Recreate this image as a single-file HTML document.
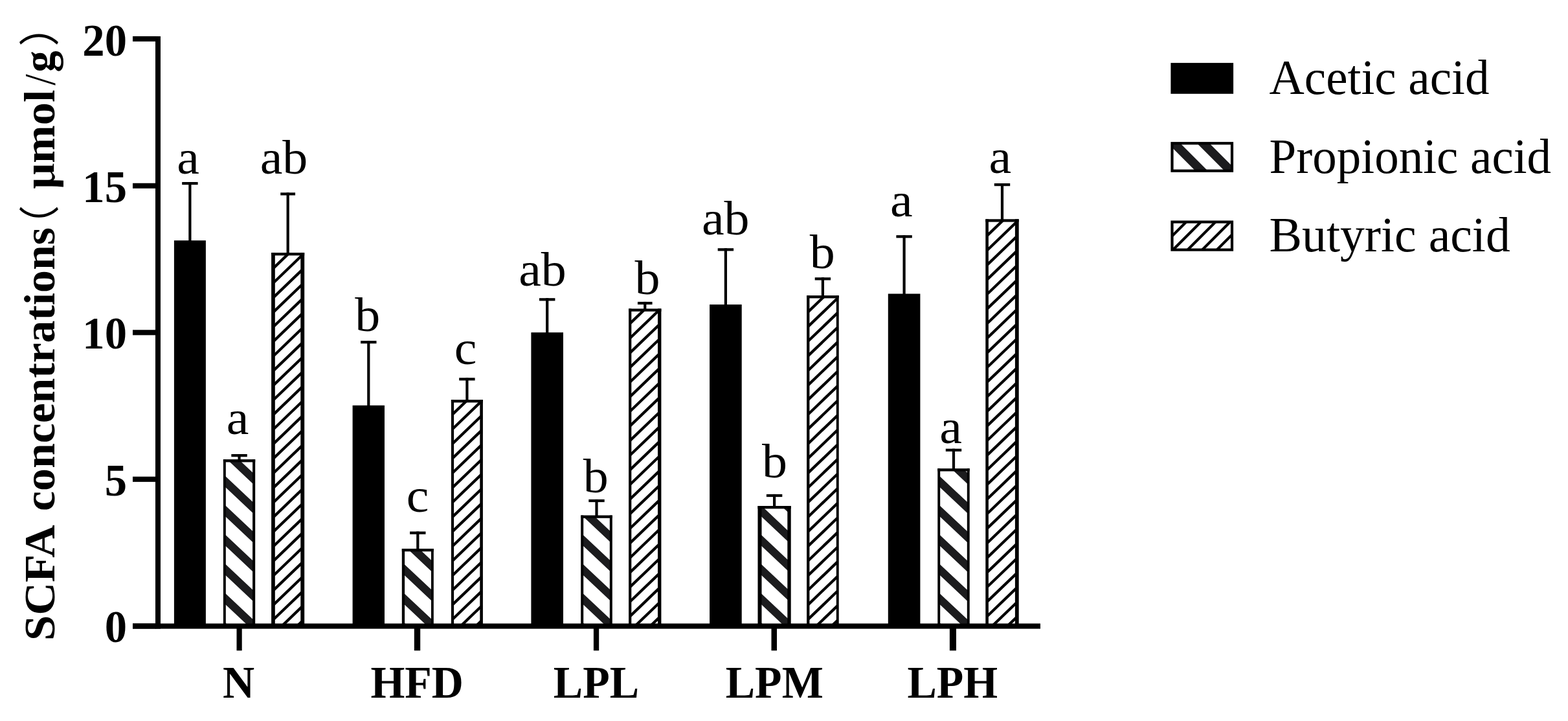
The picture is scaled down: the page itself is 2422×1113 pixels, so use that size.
<!DOCTYPE html>
<html lang="en"><head><meta charset="utf-8"><title>SCFA concentrations</title>
<style>html,body{margin:0;padding:0;background:#fff;}body{width:2422px;height:1113px;overflow:hidden;}svg{display:block;}text{font-family:'Liberation Serif', serif;fill:#000;}</style>
</head><body>
<svg width="2422" height="1113" viewBox="0 0 2422 1113">
<rect x="0" y="0" width="2422" height="1113" fill="#fff"/>
<defs><clipPath id="c1"><rect x="346.9" y="711.1" width="45.3" height="252.4"/></clipPath><clipPath id="c2"><rect x="421.1" y="392.1" width="47.1" height="571.4"/></clipPath><clipPath id="c3"><rect x="622.8" y="849" width="45" height="114.5"/></clipPath><clipPath id="c4"><rect x="698.9" y="619.1" width="45" height="344.4"/></clipPath><clipPath id="c5"><rect x="899.2" y="797.5" width="44.6" height="166"/></clipPath><clipPath id="c6"><rect x="973.1" y="478.5" width="46.3" height="485"/></clipPath><clipPath id="c7"><rect x="1172.5" y="783" width="47.2" height="180.5"/></clipPath><clipPath id="c8"><rect x="1248.1" y="458.1" width="45.6" height="505.4"/></clipPath><clipPath id="c9"><rect x="1450.3" y="725.2" width="45.4" height="238.3"/></clipPath><clipPath id="c10"><rect x="1524.3" y="340.3" width="47.4" height="623.2"/></clipPath><clipPath id="c11"><rect x="1810.4" y="221.1" width="92.7" height="42.7"/></clipPath><clipPath id="c12"><rect x="1810.4" y="342.5" width="92.7" height="43.2"/></clipPath></defs>
<rect x="281.2" y="281" width="24.4" height="4.2" fill="#000"/>
<rect x="291.3" y="281" width="4.2" height="91.2" fill="#000"/>
<rect x="268.9" y="371.2" width="49" height="592.3" fill="#000"/>
<text transform="translate(273.32 267.5) scale(1 0.95)" font-size="78">a</text>
<rect x="357.35" y="701" width="24.4" height="4.2" fill="#000"/>
<rect x="367.45" y="701" width="4.2" height="9.1" fill="#000"/>
<path d="M345.8 687.63L393.1 732.09L393.1 748.99L345.8 704.53ZM345.8 732.88L393.1 777.34L393.1 794.24L345.8 749.78ZM345.8 778.13L393.1 822.59L393.1 839.49L345.8 795.03ZM345.8 823.38L393.1 867.84L393.1 884.74L345.8 840.28ZM345.8 868.63L393.1 913.09L393.1 929.99L345.8 885.53ZM345.8 913.88L393.1 958.34L393.1 975.24L345.8 930.78ZM345.8 959.13L393.1 1003.59L393.1 1020.49L345.8 976.03Z" fill="#1c1c1e" clip-path="url(#c1)"/>
<rect x="344.9" y="709.1" width="3.9" height="254.4" fill="#000"/>
<rect x="390.1" y="709.1" width="4.1" height="254.4" fill="#000"/>
<rect x="344.9" y="709.1" width="49.3" height="4.3" fill="#000"/>
<text transform="translate(349.72 670) scale(1 0.95)" font-size="78">a</text>
<rect x="433.25" y="297.3" width="22.8" height="4.2" fill="#000"/>
<rect x="442.55" y="297.3" width="4.2" height="93.8" fill="#000"/>
<path d="M421.8 388.93L467.3 345.25L467.3 351.15L421.8 394.83ZM421.8 411.53L467.3 367.85L467.3 373.75L421.8 417.43ZM421.8 434.13L467.3 390.45L467.3 396.35L421.8 440.03ZM421.8 456.73L467.3 413.05L467.3 418.95L421.8 462.63ZM421.8 479.33L467.3 435.65L467.3 441.55L421.8 485.23ZM421.8 501.93L467.3 458.25L467.3 464.15L421.8 507.83ZM421.8 524.53L467.3 480.85L467.3 486.75L421.8 530.43ZM421.8 547.13L467.3 503.45L467.3 509.35L421.8 553.03ZM421.8 569.73L467.3 526.05L467.3 531.95L421.8 575.63ZM421.8 592.33L467.3 548.65L467.3 554.55L421.8 598.23ZM421.8 614.93L467.3 571.25L467.3 577.15L421.8 620.83ZM421.8 637.53L467.3 593.85L467.3 599.75L421.8 643.43ZM421.8 660.13L467.3 616.45L467.3 622.35L421.8 666.03ZM421.8 682.73L467.3 639.05L467.3 644.95L421.8 688.63ZM421.8 705.33L467.3 661.65L467.3 667.55L421.8 711.23ZM421.8 727.93L467.3 684.25L467.3 690.15L421.8 733.83ZM421.8 750.53L467.3 706.85L467.3 712.75L421.8 756.43ZM421.8 773.13L467.3 729.45L467.3 735.35L421.8 779.03ZM421.8 795.73L467.3 752.05L467.3 757.95L421.8 801.63ZM421.8 818.33L467.3 774.65L467.3 780.55L421.8 824.23ZM421.8 840.93L467.3 797.25L467.3 803.15L421.8 846.83ZM421.8 863.53L467.3 819.85L467.3 825.75L421.8 869.43ZM421.8 886.13L467.3 842.45L467.3 848.35L421.8 892.03ZM421.8 908.73L467.3 865.05L467.3 870.95L421.8 914.63ZM421.8 931.33L467.3 887.65L467.3 893.55L421.8 937.23ZM421.8 953.93L467.3 910.25L467.3 916.15L421.8 959.83ZM421.8 976.53L467.3 932.85L467.3 938.75L421.8 982.43ZM421.8 999.13L467.3 955.45L467.3 961.35L421.8 1005.03Z" fill="#000" clip-path="url(#c2)"/>
<rect x="419.1" y="390.1" width="5.7" height="573.4" fill="#000"/>
<rect x="464.3" y="390.1" width="5.9" height="573.4" fill="#000"/>
<rect x="419.1" y="390.1" width="51.1" height="4.3" fill="#000"/>
<text transform="translate(401.69 267.5) scale(1 0.95)" font-size="78">ab</text>
<rect x="557.1" y="526.1" width="24.4" height="4.2" fill="#000"/>
<rect x="567.2" y="526.1" width="4.2" height="100.7" fill="#000"/>
<rect x="544.6" y="625.8" width="49.4" height="337.7" fill="#000"/>
<text transform="translate(548.33 510.5) scale(1 0.95)" font-size="78">b</text>
<rect x="633.1" y="820.5" width="24.4" height="4.2" fill="#000"/>
<rect x="643.2" y="820.5" width="4.2" height="27.5" fill="#000"/>
<path d="M622.1 823.38L669 867.47L669 884.37L622.1 840.28ZM622.1 868.63L669 912.72L669 929.62L622.1 885.53ZM622.1 913.88L669 957.97L669 974.87L622.1 930.78ZM622.1 959.13L669 1003.22L669 1020.12L622.1 976.03Z" fill="#1c1c1e" clip-path="url(#c3)"/>
<rect x="620.8" y="847" width="4.3" height="116.5" fill="#000"/>
<rect x="666" y="847" width="3.8" height="116.5" fill="#000"/>
<rect x="620.8" y="847" width="49" height="4.3" fill="#000"/>
<text transform="translate(627.76 790) scale(1 0.95)" font-size="78">c</text>
<rect x="709.2" y="583.2" width="24.4" height="4.2" fill="#000"/>
<rect x="719.3" y="583.2" width="4.2" height="34.9" fill="#000"/>
<path d="M698.1 614.93L744.3 570.58L744.3 576.48L698.1 620.83ZM698.1 637.53L744.3 593.18L744.3 599.08L698.1 643.43ZM698.1 660.13L744.3 615.78L744.3 621.68L698.1 666.03ZM698.1 682.73L744.3 638.38L744.3 644.28L698.1 688.63ZM698.1 705.33L744.3 660.98L744.3 666.88L698.1 711.23ZM698.1 727.93L744.3 683.58L744.3 689.48L698.1 733.83ZM698.1 750.53L744.3 706.18L744.3 712.08L698.1 756.43ZM698.1 773.13L744.3 728.78L744.3 734.68L698.1 779.03ZM698.1 795.73L744.3 751.38L744.3 757.28L698.1 801.63ZM698.1 818.33L744.3 773.98L744.3 779.88L698.1 824.23ZM698.1 840.93L744.3 796.58L744.3 802.48L698.1 846.83ZM698.1 863.53L744.3 819.18L744.3 825.08L698.1 869.43ZM698.1 886.13L744.3 841.78L744.3 847.68L698.1 892.03ZM698.1 908.73L744.3 864.38L744.3 870.28L698.1 914.63ZM698.1 931.33L744.3 886.98L744.3 892.88L698.1 937.23ZM698.1 953.93L744.3 909.58L744.3 915.48L698.1 959.83ZM698.1 976.53L744.3 932.18L744.3 938.08L698.1 982.43ZM698.1 999.13L744.3 954.78L744.3 960.68L698.1 1005.03Z" fill="#000" clip-path="url(#c4)"/>
<rect x="696.9" y="617.1" width="4.2" height="346.4" fill="#000"/>
<rect x="741.3" y="617.1" width="4.6" height="346.4" fill="#000"/>
<rect x="696.9" y="617.1" width="49" height="4.3" fill="#000"/>
<text transform="translate(701.86 562.1) scale(1 0.95)" font-size="78">c</text>
<rect x="833" y="460.2" width="24.4" height="4.2" fill="#000"/>
<rect x="843.1" y="460.2" width="4.2" height="54" fill="#000"/>
<rect x="820.4" y="513.2" width="49.6" height="450.3" fill="#000"/>
<text transform="translate(801.19 440.5) scale(1 0.95)" font-size="78">ab</text>
<rect x="909.3" y="770.9" width="24.4" height="4.2" fill="#000"/>
<rect x="919.4" y="770.9" width="4.2" height="25.6" fill="#000"/>
<path d="M898.2 778.13L944.8 821.93L944.8 838.83L898.2 795.03ZM898.2 823.38L944.8 867.18L944.8 884.08L898.2 840.28ZM898.2 868.63L944.8 912.43L944.8 929.33L898.2 885.53ZM898.2 913.88L944.8 957.68L944.8 974.58L898.2 930.78ZM898.2 959.13L944.8 1002.93L944.8 1019.83L898.2 976.03Z" fill="#1c1c1e" clip-path="url(#c5)"/>
<rect x="897.2" y="795.5" width="4" height="168" fill="#000"/>
<rect x="941.8" y="795.5" width="4" height="168" fill="#000"/>
<rect x="897.2" y="795.5" width="48.6" height="4.3" fill="#000"/>
<text transform="translate(900.63 759.8) scale(1 0.95)" font-size="78">b</text>
<rect x="984.95" y="465.9" width="22.6" height="4.2" fill="#000"/>
<rect x="994.15" y="465.9" width="4.2" height="11.6" fill="#000"/>
<path d="M972.3 474.63L1019 429.8L1019 435.7L972.3 480.53ZM972.3 497.23L1019 452.4L1019 458.3L972.3 503.13ZM972.3 519.83L1019 475L1019 480.9L972.3 525.73ZM972.3 542.43L1019 497.6L1019 503.5L972.3 548.33ZM972.3 565.03L1019 520.2L1019 526.1L972.3 570.93ZM972.3 587.63L1019 542.8L1019 548.7L972.3 593.53ZM972.3 610.23L1019 565.4L1019 571.3L972.3 616.13ZM972.3 632.83L1019 588L1019 593.9L972.3 638.73ZM972.3 655.43L1019 610.6L1019 616.5L972.3 661.33ZM972.3 678.03L1019 633.2L1019 639.1L972.3 683.93ZM972.3 700.63L1019 655.8L1019 661.7L972.3 706.53ZM972.3 723.23L1019 678.4L1019 684.3L972.3 729.13ZM972.3 745.83L1019 701L1019 706.9L972.3 751.73ZM972.3 768.43L1019 723.6L1019 729.5L972.3 774.33ZM972.3 791.03L1019 746.2L1019 752.1L972.3 796.93ZM972.3 813.63L1019 768.8L1019 774.7L972.3 819.53ZM972.3 836.23L1019 791.4L1019 797.3L972.3 842.13ZM972.3 858.83L1019 814L1019 819.9L972.3 864.73ZM972.3 881.43L1019 836.6L1019 842.5L972.3 887.33ZM972.3 904.03L1019 859.2L1019 865.1L972.3 909.93ZM972.3 926.63L1019 881.8L1019 887.7L972.3 932.53ZM972.3 949.23L1019 904.4L1019 910.3L972.3 955.13ZM972.3 971.83L1019 927L1019 932.9L972.3 977.73ZM972.3 994.43L1019 949.6L1019 955.5L972.3 1000.33Z" fill="#000" clip-path="url(#c6)"/>
<rect x="971.1" y="476.5" width="4.2" height="487" fill="#000"/>
<rect x="1016" y="476.5" width="5.4" height="487" fill="#000"/>
<rect x="971.1" y="476.5" width="50.3" height="4.3" fill="#000"/>
<text transform="translate(980.53 454.2) scale(1 0.95)" font-size="78">b</text>
<rect x="1108.7" y="383.2" width="24.4" height="4.2" fill="#000"/>
<rect x="1118.8" y="383.2" width="4.2" height="87.9" fill="#000"/>
<rect x="1096.1" y="470.1" width="49.6" height="493.4" fill="#000"/>
<text transform="translate(1083.89 362.1) scale(1 0.95)" font-size="78">ab</text>
<rect x="1183.9" y="762.9" width="24.4" height="4.2" fill="#000"/>
<rect x="1194" y="762.9" width="4.2" height="19.1" fill="#000"/>
<path d="M1173.5 732.88L1219.3 775.93L1219.3 792.83L1173.5 749.78ZM1173.5 778.13L1219.3 821.18L1219.3 838.08L1173.5 795.03ZM1173.5 823.38L1219.3 866.43L1219.3 883.33L1173.5 840.28ZM1173.5 868.63L1219.3 911.68L1219.3 928.58L1173.5 885.53ZM1173.5 913.88L1219.3 956.93L1219.3 973.83L1173.5 930.78ZM1173.5 959.13L1219.3 1002.18L1219.3 1019.08L1173.5 976.03Z" fill="#1c1c1e" clip-path="url(#c7)"/>
<rect x="1170.5" y="781" width="6" height="182.5" fill="#000"/>
<rect x="1216.3" y="781" width="5.4" height="182.5" fill="#000"/>
<rect x="1170.5" y="781" width="51.2" height="4.3" fill="#000"/>
<text transform="translate(1176.93 737.1) scale(1 0.95)" font-size="78">b</text>
<rect x="1258.7" y="428.3" width="24.4" height="4.2" fill="#000"/>
<rect x="1268.8" y="428.3" width="4.2" height="28.8" fill="#000"/>
<path d="M1247.4 456.73L1294.8 411.23L1294.8 417.13L1247.4 462.63ZM1247.4 479.33L1294.8 433.83L1294.8 439.73L1247.4 485.23ZM1247.4 501.93L1294.8 456.43L1294.8 462.33L1247.4 507.83ZM1247.4 524.53L1294.8 479.03L1294.8 484.93L1247.4 530.43ZM1247.4 547.13L1294.8 501.63L1294.8 507.53L1247.4 553.03ZM1247.4 569.73L1294.8 524.23L1294.8 530.13L1247.4 575.63ZM1247.4 592.33L1294.8 546.83L1294.8 552.73L1247.4 598.23ZM1247.4 614.93L1294.8 569.43L1294.8 575.33L1247.4 620.83ZM1247.4 637.53L1294.8 592.03L1294.8 597.93L1247.4 643.43ZM1247.4 660.13L1294.8 614.63L1294.8 620.53L1247.4 666.03ZM1247.4 682.73L1294.8 637.23L1294.8 643.13L1247.4 688.63ZM1247.4 705.33L1294.8 659.83L1294.8 665.73L1247.4 711.23ZM1247.4 727.93L1294.8 682.43L1294.8 688.33L1247.4 733.83ZM1247.4 750.53L1294.8 705.03L1294.8 710.93L1247.4 756.43ZM1247.4 773.13L1294.8 727.63L1294.8 733.53L1247.4 779.03ZM1247.4 795.73L1294.8 750.23L1294.8 756.13L1247.4 801.63ZM1247.4 818.33L1294.8 772.83L1294.8 778.73L1247.4 824.23ZM1247.4 840.93L1294.8 795.43L1294.8 801.33L1247.4 846.83ZM1247.4 863.53L1294.8 818.03L1294.8 823.93L1247.4 869.43ZM1247.4 886.13L1294.8 840.63L1294.8 846.53L1247.4 892.03ZM1247.4 908.73L1294.8 863.23L1294.8 869.13L1247.4 914.63ZM1247.4 931.33L1294.8 885.83L1294.8 891.73L1247.4 937.23ZM1247.4 953.93L1294.8 908.43L1294.8 914.33L1247.4 959.83ZM1247.4 976.53L1294.8 931.03L1294.8 936.93L1247.4 982.43ZM1247.4 999.13L1294.8 953.63L1294.8 959.53L1247.4 1005.03Z" fill="#000" clip-path="url(#c8)"/>
<rect x="1246.1" y="456.1" width="4.3" height="507.4" fill="#000"/>
<rect x="1291.8" y="456.1" width="3.9" height="507.4" fill="#000"/>
<rect x="1246.1" y="456.1" width="49.6" height="4.3" fill="#000"/>
<text transform="translate(1250.63 414.1) scale(1 0.95)" font-size="78">b</text>
<rect x="1384.4" y="363.1" width="24.4" height="4.2" fill="#000"/>
<rect x="1394.5" y="363.1" width="4.2" height="91.4" fill="#000"/>
<rect x="1371.8" y="453.5" width="49.6" height="510" fill="#000"/>
<text transform="translate(1375.02 334.1) scale(1 0.95)" font-size="78">a</text>
<rect x="1460.8" y="692.7" width="24.4" height="4.2" fill="#000"/>
<rect x="1470.9" y="692.7" width="4.2" height="31.5" fill="#000"/>
<path d="M1449.2 687.63L1496.8 732.37L1496.8 749.27L1449.2 704.53ZM1449.2 732.88L1496.8 777.62L1496.8 794.52L1449.2 749.78ZM1449.2 778.13L1496.8 822.87L1496.8 839.77L1449.2 795.03ZM1449.2 823.38L1496.8 868.12L1496.8 885.02L1449.2 840.28ZM1449.2 868.63L1496.8 913.37L1496.8 930.27L1449.2 885.53ZM1449.2 913.88L1496.8 958.62L1496.8 975.52L1449.2 930.78ZM1449.2 959.13L1496.8 1003.87L1496.8 1020.77L1449.2 976.03Z" fill="#1c1c1e" clip-path="url(#c9)"/>
<rect x="1448.3" y="723.2" width="3.9" height="240.3" fill="#000"/>
<rect x="1493.8" y="723.2" width="3.9" height="240.3" fill="#000"/>
<rect x="1448.3" y="723.2" width="49.4" height="4.3" fill="#000"/>
<text transform="translate(1451.32 683.8) scale(1 0.95)" font-size="78">a</text>
<rect x="1535.8" y="283" width="24.4" height="4.2" fill="#000"/>
<rect x="1545.9" y="283" width="4.2" height="56.3" fill="#000"/>
<path d="M1523.9 339.03L1570.9 293.91L1570.9 299.81L1523.9 344.93ZM1523.9 361.63L1570.9 316.51L1570.9 322.41L1523.9 367.53ZM1523.9 384.23L1570.9 339.11L1570.9 345.01L1523.9 390.13ZM1523.9 406.83L1570.9 361.71L1570.9 367.61L1523.9 412.73ZM1523.9 429.43L1570.9 384.31L1570.9 390.21L1523.9 435.33ZM1523.9 452.03L1570.9 406.91L1570.9 412.81L1523.9 457.93ZM1523.9 474.63L1570.9 429.51L1570.9 435.41L1523.9 480.53ZM1523.9 497.23L1570.9 452.11L1570.9 458.01L1523.9 503.13ZM1523.9 519.83L1570.9 474.71L1570.9 480.61L1523.9 525.73ZM1523.9 542.43L1570.9 497.31L1570.9 503.21L1523.9 548.33ZM1523.9 565.03L1570.9 519.91L1570.9 525.81L1523.9 570.93ZM1523.9 587.63L1570.9 542.51L1570.9 548.41L1523.9 593.53ZM1523.9 610.23L1570.9 565.11L1570.9 571.01L1523.9 616.13ZM1523.9 632.83L1570.9 587.71L1570.9 593.61L1523.9 638.73ZM1523.9 655.43L1570.9 610.31L1570.9 616.21L1523.9 661.33ZM1523.9 678.03L1570.9 632.91L1570.9 638.81L1523.9 683.93ZM1523.9 700.63L1570.9 655.51L1570.9 661.41L1523.9 706.53ZM1523.9 723.23L1570.9 678.11L1570.9 684.01L1523.9 729.13ZM1523.9 745.83L1570.9 700.71L1570.9 706.61L1523.9 751.73ZM1523.9 768.43L1570.9 723.31L1570.9 729.21L1523.9 774.33ZM1523.9 791.03L1570.9 745.91L1570.9 751.81L1523.9 796.93ZM1523.9 813.63L1570.9 768.51L1570.9 774.41L1523.9 819.53ZM1523.9 836.23L1570.9 791.11L1570.9 797.01L1523.9 842.13ZM1523.9 858.83L1570.9 813.71L1570.9 819.61L1523.9 864.73ZM1523.9 881.43L1570.9 836.31L1570.9 842.21L1523.9 887.33ZM1523.9 904.03L1570.9 858.91L1570.9 864.81L1523.9 909.93ZM1523.9 926.63L1570.9 881.51L1570.9 887.41L1523.9 932.53ZM1523.9 949.23L1570.9 904.11L1570.9 910.01L1523.9 955.13ZM1523.9 971.83L1570.9 926.71L1570.9 932.61L1523.9 977.73ZM1523.9 994.43L1570.9 949.31L1570.9 955.21L1523.9 1000.33Z" fill="#000" clip-path="url(#c10)"/>
<rect x="1522.3" y="338.3" width="4.6" height="625.2" fill="#000"/>
<rect x="1567.9" y="338.3" width="5.8" height="625.2" fill="#000"/>
<rect x="1522.3" y="338.3" width="51.4" height="4.3" fill="#000"/>
<text transform="translate(1527.52 266.6) scale(1 0.95)" font-size="78">a</text>
<rect x="240" y="56" width="8" height="914.6" fill="#000"/>
<rect x="205" y="962.5" width="1402" height="8.1" fill="#000"/>
<rect x="205" y="55.95" width="36" height="8.1" fill="#000"/>
<text transform="translate(196 86) scale(1.01 1.03)" font-size="68" font-weight="bold" text-anchor="end">20</text>
<rect x="205" y="282.75" width="36" height="8.1" fill="#000"/>
<text transform="translate(196 311.9) scale(1.01 1.03)" font-size="68" font-weight="bold" text-anchor="end">15</text>
<rect x="205" y="509.25" width="36" height="8.1" fill="#000"/>
<text transform="translate(196 538) scale(1.01 1.03)" font-size="68" font-weight="bold" text-anchor="end">10</text>
<rect x="205" y="735.75" width="36" height="8.1" fill="#000"/>
<text transform="translate(196 765.2) scale(1.01 1.03)" font-size="68" font-weight="bold" text-anchor="end">5</text>
<rect x="205" y="962.45" width="36" height="8.1" fill="#000"/>
<text transform="translate(196 990.9) scale(1.01 1.03)" font-size="68" font-weight="bold" text-anchor="end">0</text>
<rect x="365.5" y="963.5" width="8.2" height="40.8" fill="#000"/>
<text transform="translate(368.6 1076.8) scale(1 1.03)" font-size="68" font-weight="bold" text-anchor="middle">N</text>
<rect x="639.8" y="963.5" width="9.4" height="40.8" fill="#000"/>
<text transform="translate(644.2 1076.8) scale(1 1.03)" font-size="68" font-weight="bold" text-anchor="middle">HFD</text>
<rect x="916.9" y="963.5" width="8.3" height="40.8" fill="#000"/>
<text transform="translate(920.9 1076.8) scale(1 1.03)" font-size="68" font-weight="bold" text-anchor="middle">LPL</text>
<rect x="1191.5" y="963.5" width="8.5" height="40.8" fill="#000"/>
<text transform="translate(1196.3 1076.8) scale(1 1.03)" font-size="68" font-weight="bold" text-anchor="middle">LPM</text>
<rect x="1466.9" y="963.5" width="10.1" height="40.8" fill="#000"/>
<text transform="translate(1471.3 1076.8) scale(1 1.03)" font-size="68" font-weight="bold" text-anchor="middle">LPH</text>
<text transform="translate(84 988.95) rotate(-90) scale(1.0363 1.0000)" font-size="68" font-weight="bold" style="font-family:'Liberation Serif',serif">SCFA</text>
<text transform="translate(84 788.95) rotate(-90) scale(1.0262 1.0000)" font-size="68" font-weight="bold" style="font-family:'Liberation Serif',serif">concentrations</text>
<text transform="translate(82.7 379.6) rotate(-90)" font-size="63" style="font-family:'Liberation Sans','Noto Sans CJK SC',sans-serif">（</text>
<text transform="translate(84 291.84) rotate(-90) scale(1.0363 1.0000)" font-size="68" font-weight="bold" style="font-family:'Liberation Serif',serif">μmol</text>
<text transform="translate(84 131.7) rotate(-90) scale(0.9158 1.0000)" font-size="68" font-weight="normal" style="font-family:'Liberation Serif',serif">/</text>
<text transform="translate(84 111.55) rotate(-90) scale(0.9774 1.0000)" font-size="68" font-weight="bold" style="font-family:'Liberation Serif',serif">g</text>
<text transform="translate(82.7 71.7) rotate(-90)" font-size="63" style="font-family:'Liberation Sans','Noto Sans CJK SC',sans-serif">）</text>
<rect x="1808.4" y="97.1" width="96.7" height="47.7" fill="#000"/>
<path d="M1809.6 162.7L1903.9 257L1903.9 276.2L1809.6 181.9ZM1809.6 207.7L1903.9 302L1903.9 321.2L1809.6 226.9Z" fill="#1c1c1e" clip-path="url(#c11)"/>
<rect x="1810.5" y="221.2" width="92.5" height="42.5" fill="none" stroke="#000" stroke-width="4.2"/>
<path d="M1809.6 339.75L1903.9 245.45L1903.9 251.35L1809.6 345.65ZM1809.6 362.35L1903.9 268.05L1903.9 273.95L1809.6 368.25ZM1809.6 384.95L1903.9 290.65L1903.9 296.55L1809.6 390.85ZM1809.6 407.55L1903.9 313.25L1903.9 319.15L1809.6 413.45ZM1809.6 430.15L1903.9 335.85L1903.9 341.75L1809.6 436.05ZM1809.6 452.75L1903.9 358.45L1903.9 364.35L1809.6 458.65ZM1809.6 475.35L1903.9 381.05L1903.9 386.95L1809.6 481.25Z" fill="#000" clip-path="url(#c12)"/>
<rect x="1810.5" y="342.6" width="92.5" height="43" fill="none" stroke="#000" stroke-width="4.2"/>
<text transform="translate(1960.6 145.3) scale(0.963 0.975)" font-size="78">Acetic acid</text>
<text transform="translate(1960.6 266.6) scale(0.962 0.975)" font-size="78">Propionic acid</text>
<text transform="translate(1960.6 388.2) scale(0.971 0.975)" font-size="78">Butyric acid</text>
</svg>
</body></html>
